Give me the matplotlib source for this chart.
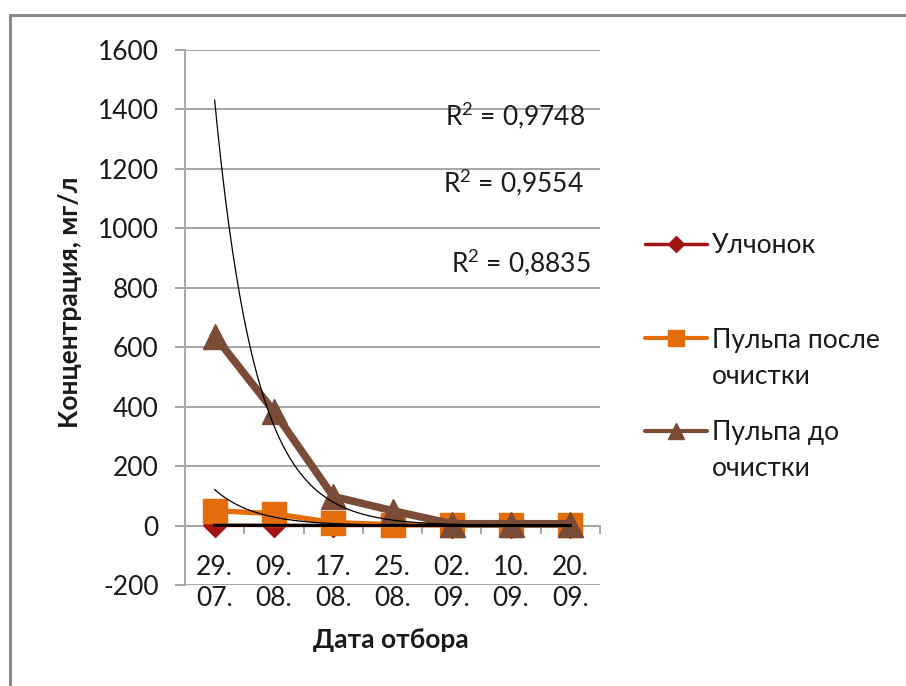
import numpy as np
import matplotlib
matplotlib.use("Agg")
import matplotlib.pyplot as plt
from matplotlib.lines import Line2D
from matplotlib.patches import Rectangle

plt.rcParams['font.family'] = ['Lato', 'DejaVu Sans']
plt.rcParams['axes.unicode_minus'] = False
plt.rcParams['mathtext.fontset'] = 'custom'
plt.rcParams['mathtext.rm'] = 'Lato'

# Sampling dates (day. / month.)
dates = ["29.\n07.", "09.\n08.", "17.\n08.", "25.\n08.", "02.\n09.", "10.\n09.", "20.\n09."]

# Concentrations, mg/l
ulchonok = [0.8, 0.5, 0.3, 0.2, 0.1, 0.1, 0.05]
pulp_after = [50, 40, 10, 3, 2, 2, 2]
pulp_before = [638, 384, 98, 50, 6, 6, 6]

# Exponential trendlines: value at the first date and decay per sampling step
trend_start = [1431, 121, 1.0]
trend_rate = [-1.45, -1.45, -0.5]
r2_values = ["0,9748", "0,9554", "0,8835"]

series_names = ["Улчонок", "Пульпа после\nочистки", "Пульпа до\nочистки"]
colors = ["#A31515", "#E46C0A", "#7A4B36"]

W, H = 906, 686
fig = plt.figure(figsize=(W / 100, H / 100), dpi=100)


def fx(px):
    return px / W


def fy(py):
    return 1 - py / H


# Chart frame
fig.add_artist(Rectangle((fx(10), fy(700)), fx(920) - fx(10), fy(15) - fy(700),
                         transform=fig.transFigure, fill=False,
                         edgecolor="#8A8A8A", linewidth=2.2))

ax = fig.add_axes([fx(185), fy(585), fx(600) - fx(185), fy(50) - fy(585)])

x = np.arange(1, len(dates) + 1)
grid_c = "#A6A6A6"
txt_c = "#1a1a1a"
fs = 19

ax.plot(x, ulchonok, color=colors[0], lw=2.5, marker="D", ms=12.5,
        mec=colors[0], mfc=colors[0], zorder=3)
ax.plot(x, pulp_after, color=colors[1], lw=3.8, marker="s", ms=17,
        mec=colors[1], mfc=colors[1], zorder=4)
ax.plot(x, pulp_before, color=colors[2], lw=5.5, marker="^", ms=18,
        mec=colors[2], mfc=colors[2], zorder=5)

xt = np.linspace(1, len(dates), 300)
trend_w = [0.9, 0.9, 2.2]
for a, b, w in zip(trend_start, trend_rate, trend_w):
    ax.plot(xt, a * np.exp(b * (xt - 1)), color="black", lw=w, zorder=6)

ax.set_xlim(0.5, len(dates) + 0.5)
ax.set_ylim(-200, 1600)
ax.set_yticks(np.arange(-200, 1601, 200))
ax.yaxis.grid(True, color=grid_c, lw=1.4)
ax.set_axisbelow(True)

for s in ["top", "right"]:
    ax.spines[s].set_visible(False)
ax.spines["left"].set_color(grid_c)
ax.spines["left"].set_linewidth(1.4)
ax.spines["bottom"].set_position(("data", 0))
ax.spines["bottom"].set_color(grid_c)
ax.spines["bottom"].set_linewidth(1.4)

ax.set_xticks(x)
ax.set_xticklabels(dates)
ax.set_xticks(np.arange(0.5, len(dates) + 1, 1), minor=True)
ax.tick_params(axis="x", which="major", length=0, pad=21, labelsize=fs, colors=txt_c)
ax.tick_params(axis="x", which="minor", length=6, width=1.4, color=grid_c, direction="out")
ax.tick_params(axis="y", length=7, width=1.4, color=grid_c, pad=12, labelsize=fs,
               labelcolor=txt_c)
for t in ax.get_xticklabels():
    t.set_linespacing(1.3)

fig.text(fx(70), fy(302), "Концентрация, мг/л", rotation=90, ha="center", va="center",
         fontsize=fs, fontweight="bold", color=txt_c)
fig.text(fx(391), fy(640), "Дата отбора", ha="center", va="center",
         fontsize=fs, fontweight="bold", color=txt_c)

# R² values of the trendlines
for val, (px, py) in zip(r2_values, [(515, 115), (513, 182), (521, 262)]):
    fig.text(fx(px), fy(py), r"R$^{\mathrm{2}}$ = " + val, ha="center", va="center",
             fontsize=fs, color=txt_c)

# Legend: handle sits on the first text line
markers = ["D", "s", "^"]
msizes = [8, 11, 12]
lws = [2.5, 3, 3]
handle_y = [244, 338, 431]
line_baselines = [[253], [348, 384], [440, 476]]
for name, c, m, ms, lw, py, bls in zip(series_names, colors, markers, msizes, lws,
                                       handle_y, line_baselines):
    fig.add_artist(Line2D([fx(645), fx(707)], [fy(py), fy(py)], transform=fig.transFigure,
                          color=c, lw=lw, solid_capstyle="round"))
    fig.add_artist(Line2D([fx(676)], [fy(py)], transform=fig.transFigure, marker=m,
                          ms=ms, color=c, mec=c))
    for part, bl in zip(name.split("\n"), bls):
        fig.text(fx(712), fy(bl), part, ha="left", va="baseline", fontsize=fs, color=txt_c)

fig.savefig("out.png", dpi=100)
